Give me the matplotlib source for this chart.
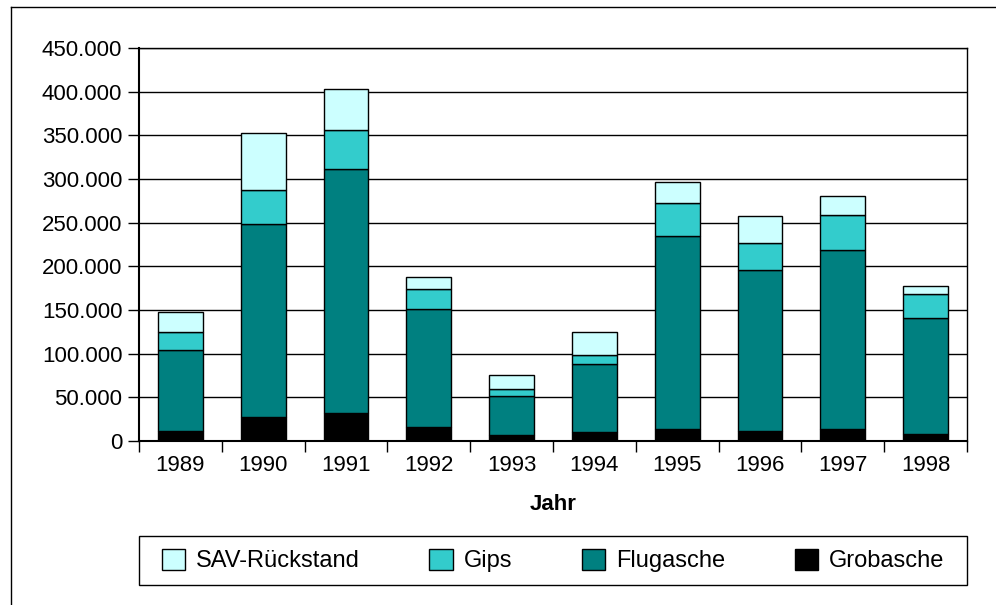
import matplotlib
matplotlib.use("Agg")
import matplotlib.pyplot as plt
from matplotlib.patches import Rectangle, Patch
from matplotlib.lines import Line2D
from matplotlib.ticker import FuncFormatter
import numpy as np

plt.rcParams['font.family'] = ['Liberation Sans', 'DejaVu Sans']

years = ['1989', '1990', '1991', '1992', '1993', '1994', '1995', '1996', '1997', '1998']
grobasche = [11500, 27500, 32500, 15700, 6500, 10700, 14200, 11900, 13400, 7700]
flugasche = [92400, 221200, 279500, 135900, 44800, 76900, 220700, 183600, 205800, 133500]
gips = [21000, 38900, 43600, 22200, 8700, 10700, 37900, 31400, 39400, 27100]
sav = [23000, 65000, 47800, 14500, 15400, 26800, 24100, 30200, 21400, 8800]

series = [
    ('Grobasche', grobasche, '#000000'),
    ('Flugasche', flugasche, '#008080'),
    ('Gips', gips, '#33CCCC'),
    ('SAV-Rückstand', sav, '#CCFFFF'),
]

W, H = 996, 605
fig = plt.figure(figsize=(W / 100, H / 100), dpi=100)
ax = fig.add_axes([139 / W, 1 - 441 / H, (967 - 139) / W, (441 - 48) / H])

x = np.arange(len(years))
bottom = np.zeros(len(years))
handles = {}
for name, vals, col in series:
    v = np.array(vals, dtype=float)
    b = ax.bar(x, v, bottom=bottom, width=0.54, color=col, edgecolor='black',
               linewidth=1.0, zorder=3)
    handles[name] = col
    bottom += v

ax.set_xlim(-0.5, len(years) - 0.5)
ax.set_ylim(0, 450000)
ax.set_yticks(np.arange(0, 450001, 50000))
ax.yaxis.set_major_formatter(FuncFormatter(lambda v, p: '0' if v == 0 else f"{int(v):,}".replace(',', '.')))
ax.yaxis.grid(True, color='black', linewidth=1.0, zorder=0)
ax.set_axisbelow(True)

ax.set_xticks(x)
ax.set_xticklabels(years)
ax.set_xticks(np.arange(-0.5, len(years), 1.0), minor=True)
ax.tick_params(axis='x', which='major', length=0, pad=10, labelsize=16)
ax.tick_params(axis='x', which='minor', length=8, width=1, direction='out', color='black')
ax.tick_params(axis='y', length=8, width=1, direction='out', pad=4, labelsize=16)

for s in ax.spines.values():
    s.set_color('black')
    s.set_linewidth(1.0)
ax.spines['left'].set_linewidth(1.5)
ax.spines['bottom'].set_linewidth(1.5)

fig.text(553 / W, 1 - 505 / H, 'Jahr', ha='center', va='center', fontsize=16, fontweight='bold')

# legend frame
fig.patches.append(Rectangle((139 / W, 1 - 585 / H), (967 - 139) / W, (585 - 536) / H,
                             transform=fig.transFigure, facecolor='white', edgecolor='black',
                             linewidth=1.0, zorder=1))
order = ['SAV-Rückstand', 'Gips', 'Flugasche', 'Grobasche']
leg_handles = [Patch(facecolor=handles[n], edgecolor='black', linewidth=1.0) for n in order]
leg = fig.legend(leg_handles, order, loc='center', bbox_to_anchor=(553 / W, 1 - 560.5 / H),
                 ncol=4, frameon=False, fontsize=17, handlelength=1.0, handleheight=1.0,
                 handletextpad=0.45, columnspacing=2.95, borderpad=0)

# outer chart frame (left and top edges)
fig.add_artist(Line2D([11 / W, 11 / W], [0, 1 - 7 / H], transform=fig.transFigure, color='black', linewidth=1.0))
fig.add_artist(Line2D([11 / W, 1], [1 - 7 / H, 1 - 7 / H], transform=fig.transFigure, color='black', linewidth=1.0))

fig.savefig('out.png', dpi=100)
